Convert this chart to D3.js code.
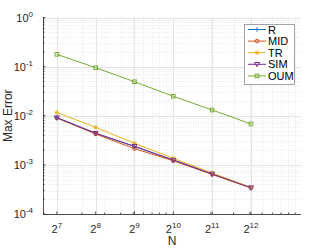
<!DOCTYPE html>
<html><head><meta charset="utf-8">
<script src="https://cdn.jsdelivr.net/npm/d3@7"></script>
<style>body{margin:0;background:#fff}svg{display:block;font-family:"Liberation Sans",Arial,sans-serif}</style>
</head><body><svg id="c" width="332" height="249"></svg>
<script>
const exponentsN = [7, 8, 9, 10, 11, 12];
const N = [128, 256, 512, 1024, 2048, 4096];
const seriesNames = ["R", "MID", "TR", "SIM", "OUM"];
const R   = [0.0092, 0.00442, 0.00236, 0.00126, 0.000655, 0.000344];
const MID = [0.0090, 0.00425, 0.00214, 0.00121, 0.00064, 0.000338];
const TR  = [0.0117, 0.0058, 0.00275, 0.00136, 0.000684, 0.000347];
const SIM = [0.0091, 0.0044, 0.00239, 0.00125, 0.000652, 0.000343];
const OUM = [0.178, 0.095, 0.0493, 0.0249, 0.0131, 0.0068];
const yTickExps = [-4, -3, -2, -1, 0];
const colors = ["#0072BD", "#D95319", "#EDB120", "#7E2F8E", "#77AC30"];
const markers = ["plus", "circle", "star", "tri", "square"];
const values = [R, MID, TR, SIM, OUM];

const svg = d3.select("#c");
const L = 43, Rt = 301, T = 17.5, B = 214;
const x = d3.scaleLog().domain([100, 10000]).range([L, Rt]);
const y = d3.scaleLog().domain([1e-4, 1]).range([B, T]);

const g = svg.append("g");
const xMinor = [], yMinor = [];
for (let d = 100; d < 10000; d *= 10) for (let k = 2; k <= 9; k++) xMinor.push(d * k);
for (let d = 1e-4; d < 1; d *= 10) for (let k = 2; k <= 9; k++) yMinor.push(d * k);
g.selectAll(".xm").data(xMinor).join("line")
  .attr("x1", d => Math.round(x(d)) + 0.5).attr("x2", d => Math.round(x(d)) + 0.5)
  .attr("y1", T).attr("y2", B).attr("stroke", "#dcdcdc").attr("stroke-width", 0.6).attr("stroke-dasharray", "1,1.5");
g.selectAll(".ym").data(yMinor).join("line")
  .attr("y1", d => Math.round(y(d)) + 0.5).attr("y2", d => Math.round(y(d)) + 0.5)
  .attr("x1", L).attr("x2", Rt).attr("stroke", "#dcdcdc").attr("stroke-width", 0.6).attr("stroke-dasharray", "1,1.5");
g.selectAll(".xM").data(N).join("line")
  .attr("x1", d => Math.round(x(d)) + 0.5).attr("x2", d => Math.round(x(d)) + 0.5)
  .attr("y1", T).attr("y2", B).attr("stroke", "#e4e4e4").attr("stroke-width", 1);
g.selectAll(".yM").data(yTickExps).join("line")
  .attr("y1", d => Math.round(y(Math.pow(10, d))) + 0.5).attr("y2", d => Math.round(y(Math.pow(10, d))) + 0.5)
  .attr("x1", L).attr("x2", Rt).attr("stroke", "#e4e4e4").attr("stroke-width", 1);

const ax = svg.append("g").attr("stroke", "#262626").attr("stroke-width", 0.8);
ax.append("line").attr("x1", L).attr("x2", Rt).attr("y1", B + 0.5).attr("y2", B + 0.5);
ax.append("line").attr("x1", L + 0.5).attr("x2", L + 0.5).attr("y1", T).attr("y2", B);
N.forEach(d => ax.append("line").attr("x1", x(d)).attr("x2", x(d)).attr("y1", B).attr("y2", B - 2.5));
xMinor.forEach(d => ax.append("line").attr("x1", x(d)).attr("x2", x(d)).attr("y1", B).attr("y2", B - 1.5));
yTickExps.forEach(e => ax.append("line").attr("x1", L).attr("x2", L + 2.5).attr("y1", y(Math.pow(10, e))).attr("y2", y(Math.pow(10, e))));
yMinor.forEach(d => ax.append("line").attr("x1", L).attr("x2", L + 1.5).attr("y1", y(d)).attr("y2", y(d)));

const xl = svg.append("g").attr("fill", "#262626");
N.forEach((d, i) => {
  const t = xl.append("text").attr("x", x(d)).attr("y", 232.5).attr("text-anchor", "middle").attr("font-size", 11);
  t.append("tspan").text("2");
  t.append("tspan").attr("dy", -5).attr("font-size", 8).text(exponentsN[i]);
});
yTickExps.forEach(e => {
  const t = xl.append("text").attr("x", 33).attr("y", y(Math.pow(10, e)) + 4).attr("text-anchor", "end").attr("font-size", 11);
  t.append("tspan").text("10");
  t.append("tspan").attr("dy", -5).attr("font-size", 8).text(e);
});
svg.append("text").attr("x", 172).attr("y", 245).attr("text-anchor", "middle").attr("font-size", 12).attr("fill", "#262626").text("N");
svg.append("text").attr("transform", `translate(12,${(T + B) / 2}) rotate(-90)`).attr("text-anchor", "middle").attr("font-size", 12).attr("fill", "#262626").text("Max Error");

function marker(sel, type, cx, cy, color) {
  const s = 2.2;
  if (type === "plus") {
    sel.append("path").attr("d", `M${cx - s},${cy}H${cx + s}M${cx},${cy - s}V${cy + s}`).attr("stroke", color).attr("fill", "none");
  } else if (type === "circle") {
    sel.append("circle").attr("cx", cx).attr("cy", cy).attr("r", 1.8).attr("stroke", color).attr("fill", "none");
  } else if (type === "star") {
    const a = s * 0.75;
    sel.append("path").attr("d", `M${cx - s},${cy}H${cx + s}M${cx},${cy - s}V${cy + s}M${cx - a},${cy - a}L${cx + a},${cy + a}M${cx - a},${cy + a}L${cx + a},${cy - a}`).attr("stroke", color).attr("fill", "none");
  } else if (type === "tri") {
    sel.append("path").attr("d", `M${cx - 2.5},${cy - 1.8}H${cx + 2.5}L${cx},${cy + 2.5}Z`).attr("stroke", color).attr("fill", "none");
  } else if (type === "square") {
    sel.append("rect").attr("x", cx - 1.8).attr("y", cy - 1.8).attr("width", 3.6).attr("height", 3.6).attr("stroke", color).attr("fill", "none");
  }
}

const line = d3.line().x((d, i) => x(N[i])).y(d => y(d));
values.forEach((vals, k) => {
  const sg = svg.append("g");
  sg.append("path").attr("d", line(vals)).attr("fill", "none").attr("stroke", colors[k]).attr("stroke-width", 1);
  vals.forEach((v, i) => marker(sg, markers[k], x(N[i]), y(v), colors[k]));
});

const lg = svg.append("g");
lg.append("rect").attr("x", 244.5).attr("y", 24.5).attr("width", 50).attr("height", 60).attr("fill", "#fff").attr("stroke", "#8c8c8c").attr("stroke-width", 0.8);
seriesNames.forEach((n, k) => {
  const ly = 29.5 + k * 11.6;
  lg.append("line").attr("x1", 248).attr("x2", 266).attr("y1", ly).attr("y2", ly).attr("stroke", colors[k]).attr("stroke-width", 1);
  marker(lg, markers[k], 257, ly, colors[k]);
  lg.append("text").attr("x", 268).attr("y", ly + 4).attr("font-size", 11).attr("fill", "#000").text(n);
});
</script></body></html>
